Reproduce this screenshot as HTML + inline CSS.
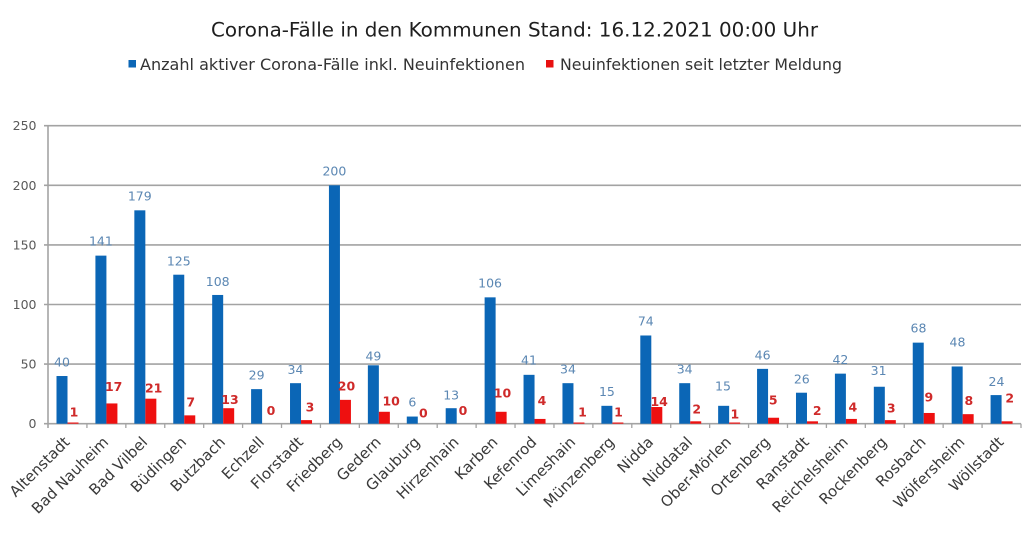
<!DOCTYPE html>
<html><head><meta charset="utf-8"><style>
html,body{margin:0;padding:0;background:#fff;}
svg{display:block;}
text{font-family:"DejaVu Sans","Liberation Sans",sans-serif;}
</style></head><body>
<svg width="1024" height="534" viewBox="0 0 1024 534" xmlns="http://www.w3.org/2000/svg">
<rect width="1024" height="534" fill="#fff"/>
<text x="211" y="36.5" font-size="19.5" fill="#1e1e1e" textLength="607" lengthAdjust="spacingAndGlyphs">Corona-Fälle in den Kommunen Stand: 16.12.2021 00:00 Uhr</text>
<rect x="128.5" y="60" width="7.5" height="7.5" fill="#0b66b6"/>
<text x="140" y="70" font-size="16" fill="#333" textLength="385" lengthAdjust="spacingAndGlyphs">Anzahl aktiver Corona-Fälle inkl. Neuinfektionen</text>
<rect x="546" y="60" width="7.5" height="7.5" fill="#e81010"/>
<text x="560" y="70" font-size="16" fill="#333" textLength="282" lengthAdjust="spacingAndGlyphs">Neuinfektionen seit letzter Meldung</text>
<g stroke="#a3a3a3" stroke-width="1.6">
<line x1="44" y1="125.7" x2="1021" y2="125.7"/>
<line x1="44" y1="185.3" x2="1021" y2="185.3"/>
<line x1="44" y1="244.9" x2="1021" y2="244.9"/>
<line x1="44" y1="304.5" x2="1021" y2="304.5"/>
<line x1="44" y1="364.1" x2="1021" y2="364.1"/>
<line x1="44" y1="423.7" x2="1021" y2="423.7"/>
<line x1="48" y1="125.7" x2="48" y2="428"/>
</g>
<g stroke="#a3a3a3" stroke-width="1.3">
<line x1="86.92" y1="423.7" x2="86.92" y2="428"/><line x1="125.84" y1="423.7" x2="125.84" y2="428"/><line x1="164.76" y1="423.7" x2="164.76" y2="428"/><line x1="203.68" y1="423.7" x2="203.68" y2="428"/><line x1="242.6" y1="423.7" x2="242.6" y2="428"/><line x1="281.52" y1="423.7" x2="281.52" y2="428"/><line x1="320.44" y1="423.7" x2="320.44" y2="428"/><line x1="359.36" y1="423.7" x2="359.36" y2="428"/><line x1="398.28" y1="423.7" x2="398.28" y2="428"/><line x1="437.2" y1="423.7" x2="437.2" y2="428"/><line x1="476.12" y1="423.7" x2="476.12" y2="428"/><line x1="515.04" y1="423.7" x2="515.04" y2="428"/><line x1="553.96" y1="423.7" x2="553.96" y2="428"/><line x1="592.88" y1="423.7" x2="592.88" y2="428"/><line x1="631.8" y1="423.7" x2="631.8" y2="428"/><line x1="670.72" y1="423.7" x2="670.72" y2="428"/><line x1="709.64" y1="423.7" x2="709.64" y2="428"/><line x1="748.56" y1="423.7" x2="748.56" y2="428"/><line x1="787.48" y1="423.7" x2="787.48" y2="428"/><line x1="826.4" y1="423.7" x2="826.4" y2="428"/><line x1="865.32" y1="423.7" x2="865.32" y2="428"/><line x1="904.24" y1="423.7" x2="904.24" y2="428"/><line x1="943.16" y1="423.7" x2="943.16" y2="428"/><line x1="982.08" y1="423.7" x2="982.08" y2="428"/><line x1="1021" y1="423.7" x2="1021" y2="428"/>
</g>
<g font-size="12.5" fill="#595959" text-anchor="end">
<text x="36.5" y="130.2">250</text>
<text x="36.5" y="189.8">200</text>
<text x="36.5" y="249.4">150</text>
<text x="36.5" y="309">100</text>
<text x="36.5" y="368.6">50</text>
<text x="36.5" y="428.2">0</text>
</g>
<g fill="#0b66b6">
<rect x="56.5" y="376.02" width="11" height="47.68"/>
<rect x="95.42" y="255.63" width="11" height="168.07"/>
<rect x="134.34" y="210.33" width="11" height="213.37"/>
<rect x="173.26" y="274.7" width="11" height="149"/>
<rect x="212.18" y="294.96" width="11" height="128.74"/>
<rect x="251.1" y="389.13" width="11" height="34.57"/>
<rect x="290.02" y="383.17" width="11" height="40.53"/>
<rect x="328.94" y="185.3" width="11" height="238.4"/>
<rect x="367.86" y="365.29" width="11" height="58.41"/>
<rect x="406.78" y="416.55" width="11" height="7.15"/>
<rect x="445.7" y="408.2" width="11" height="15.5"/>
<rect x="484.62" y="297.35" width="11" height="126.35"/>
<rect x="523.54" y="374.83" width="11" height="48.87"/>
<rect x="562.46" y="383.17" width="11" height="40.53"/>
<rect x="601.38" y="405.82" width="11" height="17.88"/>
<rect x="640.3" y="335.49" width="11" height="88.21"/>
<rect x="679.22" y="383.17" width="11" height="40.53"/>
<rect x="718.14" y="405.82" width="11" height="17.88"/>
<rect x="757.06" y="368.87" width="11" height="54.83"/>
<rect x="795.98" y="392.71" width="11" height="30.99"/>
<rect x="834.9" y="373.64" width="11" height="50.06"/>
<rect x="873.82" y="386.75" width="11" height="36.95"/>
<rect x="912.74" y="342.64" width="11" height="81.06"/>
<rect x="951.66" y="366.48" width="11" height="57.22"/>
<rect x="990.58" y="395.09" width="11" height="28.61"/>
</g>
<g fill="#ee1010">
<rect x="67.5" y="422.51" width="11" height="1.19"/>
<rect x="106.42" y="403.44" width="11" height="20.26"/>
<rect x="145.34" y="398.67" width="11" height="25.03"/>
<rect x="184.26" y="415.36" width="11" height="8.34"/>
<rect x="223.18" y="408.2" width="11" height="15.5"/>
<rect x="301.02" y="420.12" width="11" height="3.58"/>
<rect x="339.94" y="399.86" width="11" height="23.84"/>
<rect x="378.86" y="411.78" width="11" height="11.92"/>
<rect x="495.62" y="411.78" width="11" height="11.92"/>
<rect x="534.54" y="418.93" width="11" height="4.77"/>
<rect x="573.46" y="422.51" width="11" height="1.19"/>
<rect x="612.38" y="422.51" width="11" height="1.19"/>
<rect x="651.3" y="407.01" width="11" height="16.69"/>
<rect x="690.22" y="421.32" width="11" height="2.38"/>
<rect x="729.14" y="422.51" width="11" height="1.19"/>
<rect x="768.06" y="417.74" width="11" height="5.96"/>
<rect x="806.98" y="421.32" width="11" height="2.38"/>
<rect x="845.9" y="418.93" width="11" height="4.77"/>
<rect x="884.82" y="420.12" width="11" height="3.58"/>
<rect x="923.74" y="412.97" width="11" height="10.73"/>
<rect x="962.66" y="414.16" width="11" height="9.54"/>
<rect x="1001.58" y="421.32" width="11" height="2.38"/>
</g>
<g font-size="12.5" fill="#5b87b3" text-anchor="middle">
<text x="62" y="366.7">40</text>
<text x="100.9" y="245.7">141</text>
<text x="139.8" y="200.7">179</text>
<text x="178.8" y="265.7">125</text>
<text x="217.7" y="286">108</text>
<text x="256.6" y="379.3">29</text>
<text x="295.5" y="374">34</text>
<text x="334.4" y="175.3">200</text>
<text x="373.4" y="360.7">49</text>
<text x="412.3" y="406.7">6</text>
<text x="451.2" y="399.3">13</text>
<text x="490.1" y="287.3">106</text>
<text x="529" y="364.5">41</text>
<text x="568" y="373.3">34</text>
<text x="606.9" y="396">15</text>
<text x="645.8" y="325.7">74</text>
<text x="684.7" y="373.3">34</text>
<text x="723" y="390.7">15</text>
<text x="762.6" y="359.3">46</text>
<text x="801.8" y="383.3">26</text>
<text x="840.4" y="364">42</text>
<text x="878.6" y="375">31</text>
<text x="918.5" y="332.7">68</text>
<text x="957.5" y="346.7">48</text>
<text x="996.5" y="386">24</text>
</g>
<g font-size="12.5" font-weight="bold" fill="#cf2a2a" text-anchor="middle">
<text x="74" y="416.7">1</text>
<text x="113.7" y="391">17</text>
<text x="153.7" y="392.7">21</text>
<text x="190.7" y="406.7">7</text>
<text x="230" y="404">13</text>
<text x="271" y="415">0</text>
<text x="310" y="411.7">3</text>
<text x="346.5" y="390.7">20</text>
<text x="391.2" y="405.3">10</text>
<text x="423.3" y="417.7">0</text>
<text x="463" y="415">0</text>
<text x="502.5" y="397.3">10</text>
<text x="542" y="405">4</text>
<text x="582.5" y="416.7">1</text>
<text x="618.5" y="416.7">1</text>
<text x="659.2" y="406">14</text>
<text x="696.7" y="413.3">2</text>
<text x="734.8" y="418.3">1</text>
<text x="773.2" y="404.3">5</text>
<text x="817.2" y="415">2</text>
<text x="852.8" y="411.7">4</text>
<text x="891.2" y="412.7">3</text>
<text x="928.8" y="401.7">9</text>
<text x="968.8" y="405">8</text>
<text x="1009.7" y="402.7">2</text>
</g>
<g font-size="15" fill="#3a3a3a" text-anchor="end">
<text transform="translate(70.5,443) rotate(-45)">Altenstadt</text>
<text transform="translate(109.4,443) rotate(-45)">Bad Nauheim</text>
<text transform="translate(148.3,443) rotate(-45)">Bad Vilbel</text>
<text transform="translate(187.2,443) rotate(-45)">Büdingen</text>
<text transform="translate(226.1,443) rotate(-45)">Butzbach</text>
<text transform="translate(265.1,443) rotate(-45)">Echzell</text>
<text transform="translate(304,443) rotate(-45)">Florstadt</text>
<text transform="translate(342.9,443) rotate(-45)">Friedberg</text>
<text transform="translate(381.8,443) rotate(-45)">Gedern</text>
<text transform="translate(420.7,443) rotate(-45)">Glauburg</text>
<text transform="translate(459.7,443) rotate(-45)">Hirzenhain</text>
<text transform="translate(498.6,443) rotate(-45)">Karben</text>
<text transform="translate(537.5,443) rotate(-45)">Kefenrod</text>
<text transform="translate(576.4,443) rotate(-45)">Limeshain</text>
<text transform="translate(615.3,443) rotate(-45)">Münzenberg</text>
<text transform="translate(654.3,443) rotate(-45)">Nidda</text>
<text transform="translate(693.2,443) rotate(-45)">Niddatal</text>
<text transform="translate(732.1,443) rotate(-45)">Ober-Mörlen</text>
<text transform="translate(771,443) rotate(-45)">Ortenberg</text>
<text transform="translate(809.9,443) rotate(-45)">Ranstadt</text>
<text transform="translate(848.9,443) rotate(-45)">Reichelsheim</text>
<text transform="translate(887.8,443) rotate(-45)">Rockenberg</text>
<text transform="translate(926.7,443) rotate(-45)">Rosbach</text>
<text transform="translate(965.6,443) rotate(-45)">Wölfersheim</text>
<text transform="translate(1004.5,443) rotate(-45)">Wöllstadt</text>
</g>
</svg>
</body></html>
